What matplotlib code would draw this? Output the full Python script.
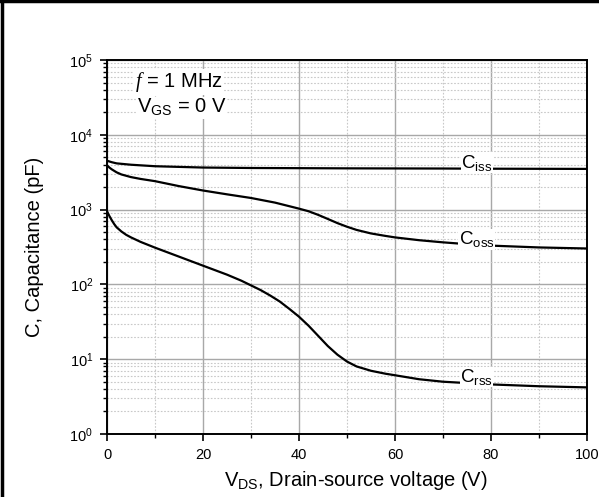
import matplotlib
matplotlib.use("Agg")
import matplotlib.pyplot as plt
from matplotlib.ticker import LogLocator, MultipleLocator, NullFormatter
from matplotlib.lines import Line2D

plt.rcParams["font.family"] = ["Liberation Sans", "DejaVu Sans"]
plt.rcParams["mathtext.fontset"] = "custom"
plt.rcParams["mathtext.rm"] = "Liberation Sans"
plt.rcParams["mathtext.it"] = "Liberation Serif:italic"
plt.rcParams["mathtext.default"] = "rm"

# V_DS (V) and capacitances (pF)
v_iss = [0, 1, 2, 5, 10, 20, 30, 40, 50, 60, 70, 80, 90, 100]
c_iss = [4500, 4300, 4150, 3980, 3800, 3650, 3600, 3580, 3560, 3550, 3540, 3520, 3510, 3500]

v_oss = [0, 0.5, 1, 2, 3, 5, 7, 10, 15, 20, 25, 30, 35, 40, 42, 44, 46, 48, 50, 52, 55,
         58, 60, 65, 70, 75, 80, 90, 100]
c_oss = [3900, 3650, 3450, 3150, 2950, 2720, 2570, 2400, 2060, 1800, 1600, 1430, 1240, 1030,
         950, 850, 750, 660, 590, 535, 480, 445, 425, 390, 365, 345, 330, 312, 302]

v_rss = [0, 0.5, 1, 1.5, 2, 3, 4, 5, 7, 10, 15, 20, 25, 28, 30, 32, 34, 36, 38, 40, 42, 44,
         46, 48, 50, 52, 55, 58, 60, 65, 70, 80, 90, 100]
c_rss = [950, 820, 720, 640, 580, 510, 460, 425, 370, 310, 235, 178, 135, 112, 97, 84, 71,
         59, 47, 37, 28, 20.5, 15, 11.5, 9.3, 8.0, 7.0, 6.4, 6.1, 5.4, 5.0, 4.6, 4.35, 4.2]

curve_labels = [r"C$_{\rm iss}$", r"C$_{\rm oss}$", r"C$_{\rm rss}$"]
label_x = [77, 77, 77]
label_y = [4250, 400, 5.8]

fig = plt.figure(figsize=(5.99, 4.97), dpi=100)
ax = fig.add_axes([107 / 599, 63 / 497, 480 / 599, 374 / 497])

for v, c in [(v_iss, c_iss), (v_oss, c_oss), (v_rss, c_rss)]:
    ax.plot(v, c, color="black", lw=1.6, solid_capstyle="butt", zorder=3)

for txt, x, y in zip(curve_labels, label_x, label_y):
    ax.text(x, y, txt, fontsize=13.5, ha="center", va="center", zorder=4,
            bbox=dict(facecolor="white", edgecolor="none", pad=0.3))

ax.set_yscale("log")
ax.set_xlim(0, 100)
ax.set_ylim(1, 1e5)
ax.xaxis.set_major_locator(MultipleLocator(20))
ax.xaxis.set_minor_locator(MultipleLocator(10))
ax.yaxis.set_major_locator(LogLocator(base=10, numticks=10))
ax.yaxis.set_minor_locator(LogLocator(base=10, subs=range(2, 10), numticks=10))
ax.yaxis.set_minor_formatter(NullFormatter())

ax.grid(which="major", color="#a8a8a8", lw=1.0, ls="-")
ax.grid(which="minor", color="#c8c8c8", lw=0.8, ls=(0, (1.5, 1.5)))
ax.set_axisbelow(True)

ax.tick_params(which="both", direction="out", top=False, right=False, labelsize=10.5,
               color="black")
ax.tick_params(which="major", length=5, width=1.2, pad=5)
ax.tick_params(which="minor", length=3, width=1.0)
for s in ax.spines.values():
    s.set_linewidth(1.4)

ax.set_xlabel(r"V$_{\rm DS}$, Drain-source voltage (V)", fontsize=14.5, labelpad=5)
ax.xaxis.label.set_x(0.518)
ax.set_ylabel("C, Capacitance (pF)", fontsize=14.5, labelpad=18)

ax.text(0.058, 0.928, r"$\mathit{f}$ = 1 MHz", transform=ax.transAxes, fontsize=14.5,
        ha="left", va="baseline", zorder=4,
        bbox=dict(facecolor="white", edgecolor="none", pad=0.5))
ax.text(0.062, 0.858, r"V$_{\rm GS}$ = 0 V", transform=ax.transAxes, fontsize=14.5,
        ha="left", va="baseline", zorder=4,
        bbox=dict(facecolor="white", edgecolor="none", pad=0.5))

# frame on the left and top edges of the picture
fig.add_artist(Line2D([0.003, 0.003], [0, 1], transform=fig.transFigure, color="black", lw=2.5))
fig.add_artist(Line2D([0, 1], [0.997, 0.997], transform=fig.transFigure, color="black", lw=2.5))

fig.savefig("out.png", dpi=100)
